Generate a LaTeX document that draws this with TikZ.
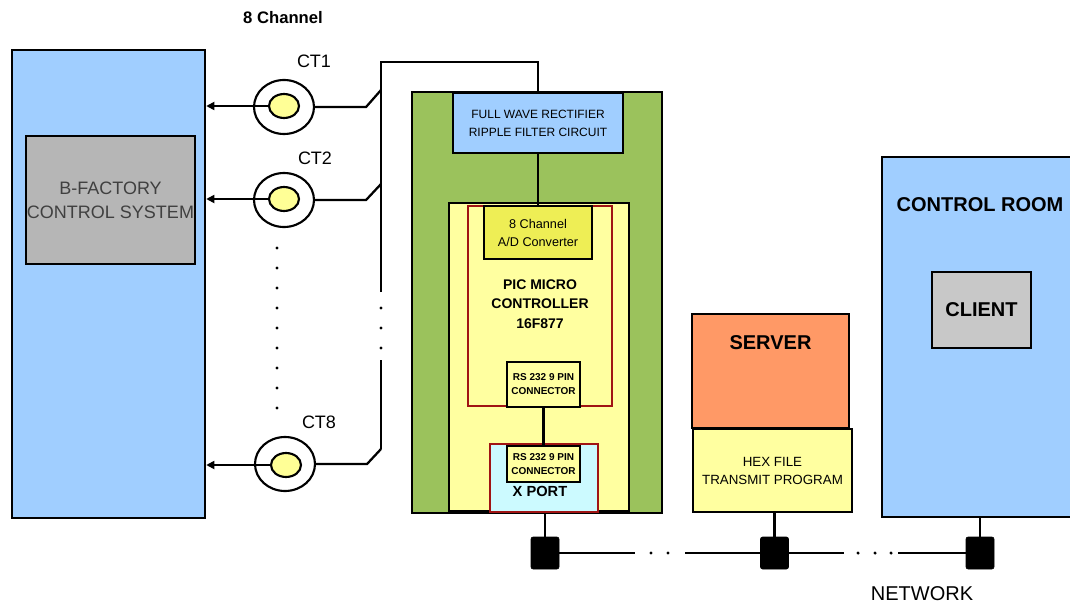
\documentclass[tikz,border=0pt]{standalone}
\usepackage{fontspec}
\setmainfont{Liberation Sans}
\usetikzlibrary{positioning,shapes.geometric,arrows.meta}

\definecolor{sysblue}{RGB}{160,206,255}
\definecolor{panelgray}{RGB}{182,182,182}
\definecolor{clientgray}{RGB}{200,200,200}
\definecolor{pcbgreen}{RGB}{155,194,92}
\definecolor{boardyellow}{RGB}{255,255,160}
\definecolor{adcyellow}{RGB}{238,238,85}
\definecolor{xportcyan}{RGB}{204,250,255}
\definecolor{serverorange}{RGB}{255,153,102}
\definecolor{picred}{RGB}{160,20,20}
\definecolor{ctyellow}{RGB}{255,255,150}

\tikzset{
  box/.style={draw, line width=1.9pt, inner sep=0pt, align=center},
  ctring/.style={draw, ellipse, line width=1.6pt, fill=white, minimum width=45pt, minimum height=40.5pt, inner sep=0pt},
  ctcore/.style={draw, ellipse, line width=1.6pt, fill=ctyellow, minimum width=22.5pt, minimum height=18pt, inner sep=0pt},
  ctlabel/.style={font=\fontsize{13.5}{16}\selectfont},
  wire/.style={line width=1.7pt},
  tap/.style={draw, fill=black, rounded corners=1.5pt, minimum width=21pt, minimum height=24pt, inner sep=0pt},
}

\begin{document}
\begin{tikzpicture}[x=0.75pt, y=-0.75pt]
  \useasboundingbox (0,0) rectangle (1070,606);

  % B-factory side
  \node [box, fill=sysblue, minimum width=144.75pt, minimum height=351pt] (bfactory) at (108.5,284) {};
  \node [box, fill=panelgray, minimum width=126.75pt, minimum height=96pt, text=black!75, font=\fontsize{13.5}{18}\selectfont] (bfcs) at (110.5,200) {B-FACTORY\\CONTROL SYSTEM};

  % current transformers
  \node [font=\bfseries\fontsize{12.5}{14}\selectfont] (chan) at (283,18) {8 Channel};
  \node [ctring] (ct1) at (284,107) {};
  \node [ctcore] (ct1in) at (284,106) {};
  \node [ctring] (ct2) at (284,200) {};
  \node [ctcore] (ct2in) at (284,199) {};
  \node [ctring] (ct8) at (285,464) {};
  \node [ctcore] (ct8in) at (286,465) {};
  \node [ctlabel] (ct1lbl) at (314,61) {CT1};
  \node [ctlabel] (ct2lbl) at (315,158) {CT2};
  \node [ctlabel] (ct8lbl) at (319,422) {CT8};
  \foreach \y in {248,268,...,408} \fill (277,\y) circle (1.3pt);

  \draw [line width=1.3pt, -{Triangle[length=6pt, width=6pt]}] (ct1in.west) -- (ct1in.west -| bfactory.east);
  \draw [line width=1.3pt, -{Triangle[length=6pt, width=6pt]}] (ct2in.west) -- (ct2in.west -| bfactory.east);
  \draw [line width=1.3pt, -{Triangle[length=6pt, width=6pt]}] (ct8in.west) -- (ct8in.west -| bfactory.east);

  % board
  \node [box, fill=pcbgreen, minimum width=187.5pt, minimum height=315.75pt] (pcb) at (537,302.5) {};
  \node [box, fill=sysblue, minimum width=127.5pt, minimum height=45pt, font=\fontsize{9}{13.5}\selectfont] (rectifier) at (538,123) {FULL WAVE RECTIFIER\\RIPPLE FILTER CIRCUIT};
  \node [box, fill=boardyellow, minimum width=135pt, minimum height=231pt] (board) at (539,357) {};
  \node [box, draw=picred, line width=1.4pt, minimum width=108pt, minimum height=150pt] (pic) at (540,306) {};
  \node [box, fill=adcyellow, minimum width=81pt, minimum height=39.75pt, font=\fontsize{9.5}{13.5}\selectfont] (adc) at (538,232.5) {8 Channel\\A/D Converter};
  \node [align=center, font=\bfseries\fontsize{10.5}{14.6}\selectfont] (piclbl) at (540,304) {PIC MICRO\\CONTROLLER\\16F877};
  \node [box, fill=boardyellow, minimum width=54.75pt, minimum height=33.75pt, font=\bfseries\fontsize{7.5}{10.5}\selectfont] (rs1) at (543.5,384.5) {RS 232 9 PIN\\CONNECTOR};
  \node [box, draw=picred, line width=1.4pt, fill=xportcyan, minimum width=81pt, minimum height=51pt] (xport) at (544,478) {};
  \node [box, fill=boardyellow, minimum width=54.75pt, minimum height=27pt, font=\bfseries\fontsize{7.5}{10.5}\selectfont] (rs2) at (543.5,464) {RS 232 9 PIN\\CONNECTOR};
  \node [font=\bfseries\fontsize{11}{13}\selectfont] (xportlbl) at (540,491) {X PORT};
  \draw [wire] (rectifier.south) -- (adc.north);
  \draw [wire] (rs1.south) -- (rs2.north);

  % bus from the transformers
  \coordinate (tap1) at (381,90);
  \coordinate (tap2) at (381,184);
  \coordinate (tap8) at (381,449);
  \coordinate (bustop) at (381,62);
  \coordinate (busgap1) at (381,292);
  \coordinate (busgap2) at (381,360);
  \draw [wire] (ct1.east) -- ++(51,0) -- (tap1);
  \draw [wire] (ct2.east) -- ++(51,0) -- (tap2);
  \draw [wire] (ct8.east) -- ++(51,0) -- (tap8);
  \draw [wire] (tap8) -- (busgap2);
  \draw [wire] (busgap1) -- (bustop) -| (rectifier.north);
  \foreach \y in {308,328,348} \fill (381,\y) circle (1.3pt);

  % server
  \node [box, fill=serverorange, minimum width=117.75pt, minimum height=85.5pt] (server) at (770.5,371) {};
  \node [font=\bfseries\fontsize{15}{18}\selectfont] (serverlbl) at (770.5,343) {SERVER};
  \node [box, fill=boardyellow, minimum width=119.25pt, minimum height=62.25pt, font=\fontsize{10}{13.5}\selectfont] (hex) at (772.5,470.5) {HEX FILE\\TRANSMIT PROGRAM};

  % control room
  \node [box, fill=sysblue, minimum width=147pt, minimum height=270pt] (ctrlroom) at (980,337) {};
  \node [font=\bfseries\fontsize{15}{18}\selectfont] (ctrllbl) at (980,205) {CONTROL ROOM};
  \node [box, fill=clientgray, minimum width=74.25pt, minimum height=57pt, font=\bfseries\fontsize{15}{18}\selectfont] (client) at (981.5,310) {CLIENT};

  % network
  \node [tap] (sq1) at (545,553) {};
  \node [tap] (sq2) at (774.5,553) {};
  \node [tap] (sq3) at (980,553) {};
  \draw [wire] (sq1.north) -- (sq1.north |- xport.south);
  \draw [wire] (sq2.north) -- (sq2.north |- hex.south);
  \draw [wire] (sq3.north) -- (sq3.north |- ctrlroom.south);
  \coordinate (net1) at (635,553);
  \coordinate (net2) at (685,553);
  \coordinate (net3) at (844,553);
  \coordinate (net4) at (898,553);
  \draw [wire] (sq1.east) -- (net1);
  \draw [wire] (net2) -- (sq2.west);
  \draw [wire] (sq2.east) -- (net3);
  \draw [wire] (net4) -- (sq3.west);
  \foreach \x in {651,668} \fill (\x,553) circle (1.3pt);
  \foreach \x in {858,875,891} \fill (\x,553) circle (1.3pt);
  \node [font=\fontsize{15}{18}\selectfont] (netlbl) at (922,594) {NETWORK};
\end{tikzpicture}
\end{document}
